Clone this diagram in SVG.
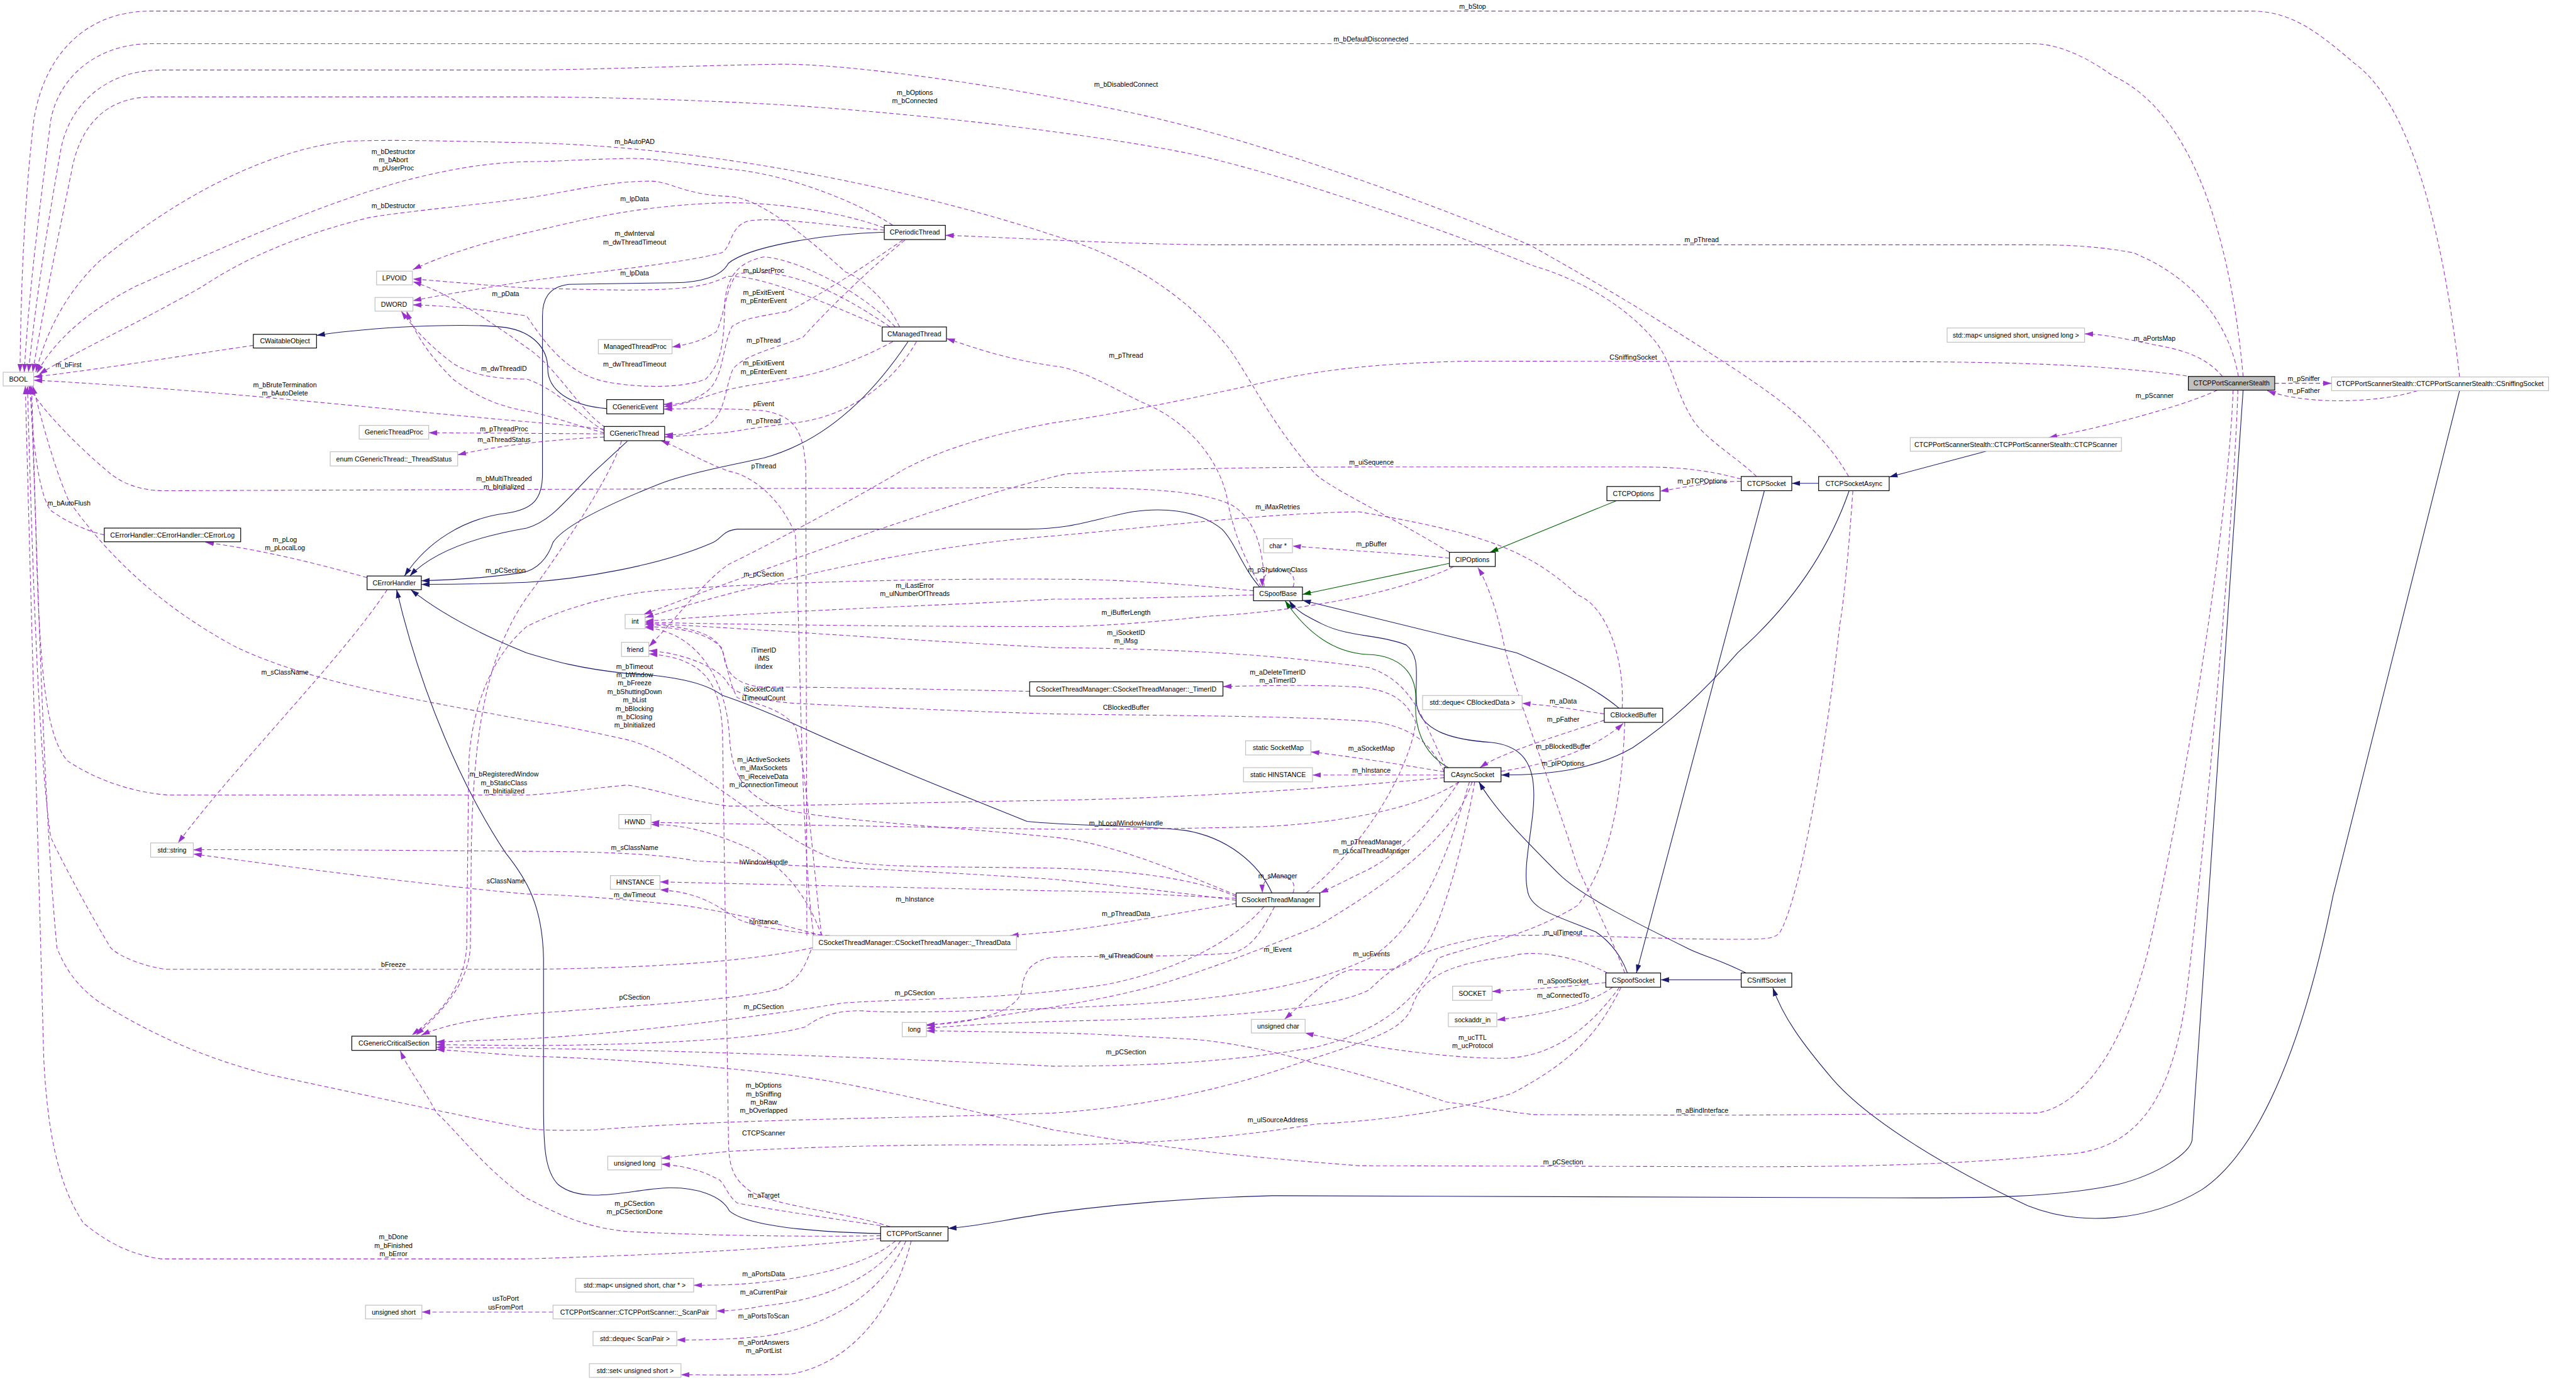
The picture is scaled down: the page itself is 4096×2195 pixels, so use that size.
<svg xmlns="http://www.w3.org/2000/svg" width="4096" height="2195" viewBox="0 0 4096 2195">
<defs>
<style>
text{font-family:"Liberation Sans",Arial,sans-serif;font-size:12.7px;fill:#000;text-anchor:middle}
.n rect{fill:#fff;stroke:#000;stroke-width:1.4}
.g rect{fill:#fff;stroke:#bfbfbf;stroke-width:1.4}
.d{fill:none;stroke:#9a32cd;stroke-width:1.3;stroke-dasharray:8,5;marker-end:url(#ap)}
.b{fill:none;stroke:#191970;stroke-width:1.3;marker-end:url(#ab)}
.gn{fill:none;stroke:#006400;stroke-width:1.3;marker-end:url(#ag)}
</style>
<marker id="ap" viewBox="0 0 16 12" refX="16" refY="6" markerWidth="16" markerHeight="12" orient="auto" markerUnits="userSpaceOnUse"><path d="M0,1 L16,6 L0,11 z" fill="#9a32cd"/></marker>
<marker id="ab" viewBox="0 0 16 12" refX="16" refY="6" markerWidth="16" markerHeight="12" orient="auto" markerUnits="userSpaceOnUse"><path d="M0,1 L16,6 L0,11 z" fill="#191970"/></marker>
<marker id="ag" viewBox="0 0 16 12" refX="16" refY="6" markerWidth="16" markerHeight="12" orient="auto" markerUnits="userSpaceOnUse"><path d="M0,1 L16,6 L0,11 z" fill="#006400"/></marker>
</defs>
<rect width="4096" height="2195" fill="#fff"/>
<g transform="scale(0.83745)">
<g id="edges">
<path class="b" d="M1152,776 C1080,770 1040,740 1040,700 C1040,660 1010,630 960,622 C880,612 700,622 601,637"/>
<path class="b" d="M1679,441 C1550,445 1420,470 1383,500 C1370,525 1330,537 1280,537 L1080,540 C1040,545 1030,570 1030,600 L1030,900 C1030,950 1010,968 960,975 C880,985 810,1030 768,1094"/>
<path class="b" d="M1191,838 L1124,900 C1070,955 1045,990 1000,1003 C900,1020 820,1050 778,1094"/>
<path class="b" d="M1724,649 C1650,760 1560,840 1450,870 C1380,885 1300,900 1250,920 C1150,960 1070,1000 1050,1030 C1040,1060 1020,1083 990,1088 C920,1098 850,1102 800,1103"/>
<path class="b" d="M2392,1115 C2360,1080 2345,1030 2320,1005 C2270,965 2200,965 2150,972 C2080,985 2040,1005 1950,1005 L1400,1005 C1370,1008 1370,1025 1350,1032 C1250,1075 1100,1100 1000,1106 C900,1110 850,1110 800,1110"/>
<path class="b" d="M2415,1696 C2390,1640 2330,1590 2249,1577 C2150,1566 2050,1570 1950,1560 C1800,1500 1650,1440 1510,1376 C1440,1345 1400,1330 1370,1320 C1330,1290 1250,1282 1190,1279 C1100,1270 1050,1255 1000,1240 C900,1200 830,1160 780,1120"/>
<path class="b" d="M1672,2343 C1550,2340 1420,2330 1385,2300 C1370,2270 1320,2255 1270,2256 C1200,2258 1110,2290 1060,2250 C1035,2225 1032,2180 1032,2100 L1032,1820 C1030,1720 1000,1670 960,1620 C880,1500 800,1320 753,1120"/>
<path class="gn" d="M2750,1458 C2700,1430 2685,1380 2688,1330 C2690,1280 2660,1245 2597,1243 C2530,1240 2480,1200 2440,1141"/>
<path class="b" d="M3090,1848 C3080,1820 3060,1790 3030,1770 C2960,1740 2905,1730 2900,1690 C2890,1640 2915,1560 2912,1500 C2910,1440 2880,1415 2830,1410 C2760,1405 2700,1390 2690,1340 C2685,1290 2700,1250 2670,1225 C2620,1205 2560,1210 2510,1185 C2480,1170 2460,1160 2448,1141"/>
<path class="b" d="M3074,1345 C3020,1300 2950,1270 2880,1240 L2473,1140"/>
<path class="gn" d="M2752,1070 L2473,1129"/>
<path class="gn" d="M3069,951 L2829,1049"/>
<path class="b" d="M3350,932 L3107,1848"/>
<path class="b" d="M3453,918 L3402,918"/>
<path class="b" d="M3511,932 C3470,1050 3400,1150 3300,1239 C3230,1320 3160,1380 3100,1420 C3030,1460 2950,1472 2850,1472"/>
<path class="b" d="M3306,1861 L3153,1861"/>
<path class="b" d="M3315,1848 C3260,1820 3230,1815 3202,1800 C3100,1750 3000,1700 2960,1660 C2900,1600 2840,1540 2808,1485"/>
<path class="b" d="M4259,741 L4162,2166 C4157,2190 4100,2230 4020,2250 C3900,2275 3750,2276 3600,2275 L2415,2271 C2250,2275 2100,2290 2000,2303 C1900,2318 1850,2330 1800,2333"/>
<path class="b" d="M4670,742 L4430,1700 C4380,1950 4300,2180 4180,2260 C4080,2320 3950,2330 3850,2290 C3700,2220 3550,2130 3480,2050 C3420,1980 3385,1930 3366,1876"/>
<path class="b" d="M3771,857 L3587,906"/>

<path class="d" d="M4670,716 C4640,450 4580,200 4470,120 C4400,60 4350,21 4274,21 L287,21 C150,21 80,120 64,230 C50,350 40,500 38,707"/>
<path class="d" d="M4259,715 C4240,500 4180,220 4010,143 C3950,100 3900,83 3858,83 L287,83 C180,83 110,150 96,230 C75,400 55,550 46,707"/>
<path class="d" d="M3510,905 C3450,800 3350,740 3300,705 C3200,640 3100,575 2904,465 C2700,380 2400,270 2166,218 C1900,160 1600,120 1478,122 C1300,125 1100,133 1000,133 L306,133 C200,133 130,200 115,287 C95,400 70,550 54,707"/>
<path class="d" d="M3335,905 C3300,870 3230,830 3210,790 C3180,740 3175,690 3144,650 C3080,570 2980,525 2912,505 C2700,420 2400,320 2250,290 C2100,260 1800,220 1500,200 C1300,188 1100,184 1000,184 L290,184 C200,184 150,240 135,330 C110,450 80,600 62,707"/>
<path class="d" d="M2752,1049 C2640,980 2530,930 2497,900 C2410,800 2370,710 2332,660 C2260,570 2150,490 2000,447 C1800,380 1400,280 1000,271 C850,268 750,265 663,268 C500,285 330,380 191,494 C120,560 85,640 68,707"/>
<path class="d" d="M1695,428 C1640,390 1500,330 1383,321 C1300,310 1240,300 1191,301 C1100,303 1050,307 1000,307 C900,310 820,330 765,344 C600,390 400,480 255,545 C150,600 95,660 70,709"/>
<path class="d" d="M1708,621 C1680,560 1620,520 1606,517 C1520,440 1440,375 1383,373 C1300,370 1270,344 1236,344 C1150,344 1080,365 1000,376 C900,390 780,400 702,413 C550,450 450,500 383,545 C250,620 130,675 74,711"/>
<path class="d" d="M481,656 C350,675 200,700 64,716"/>
<path class="d" d="M1147,815 C1100,810 1050,805 1000,801 C700,775 400,740 64,722"/>
<path class="d" d="M2400,1115 C2400,1060 2390,990 2340,960 C2290,935 2200,926 2000,926 L313,932 C260,932 230,915 210,900 C150,850 80,780 54,733"/>
<path class="d" d="M198,1016 C150,1005 110,980 96,969 C75,940 62,850 57,733"/>
<path class="d" d="M2742,1477 C2600,1490 2300,1515 2000,1520 C1700,1525 1500,1531 1383,1531 C1300,1520 1250,1500 1191,1491 C1100,1500 1050,1508 1000,1510 L319,1510 C250,1505 180,1480 128,1445 C90,1400 75,1300 68,1000 L60,733"/>
<path class="d" d="M2347,1703 C2250,1660 2100,1652 2000,1649 C1800,1645 1650,1650 1580,1630 C1450,1580 1320,1440 1191,1405 C1100,1385 1050,1375 1000,1368 C800,1330 600,1300 450,1230 C300,1150 200,1050 130,950 C100,880 80,800 62,733"/>
<path class="d" d="M1543,1800 C1450,1820 1300,1838 1000,1841 L313,1841 C250,1830 220,1810 210,1800 C150,1700 100,1600 96,1589 C70,1400 60,1000 52,733"/>
<path class="d" d="M1672,2352 C1500,2370 1319,2381 1000,2391 L306,2391 C220,2380 170,2330 159,2324 C110,2250 90,2150 83,2009 C75,1700 60,1200 48,733"/>
<path class="d" d="M3052,1848 C2980,1810 2900,1805 2870,1816 C2760,1830 2700,1850 2680,1915 C2660,1960 2600,1975 2464,2020 C2350,2060 2200,2100 2000,2114 C1700,2125 1383,2125 1128,2146 C1050,2148 1020,2146 1000,2143 C850,2115 650,2070 510,2041 C350,2000 250,1940 191,1905 C140,1870 120,1830 108,1800 C80,1500 70,1000 58,733"/>

<path class="d" d="M1679,433 C1620,410 1500,385 1383,385 C1200,390 1100,420 1000,442 C900,465 830,490 784,512"/>
<path class="d" d="M1685,625 C1600,590 1450,520 1380,525 C1340,545 1300,550 1191,551 C1100,550 1050,548 1000,547 C900,540 830,533 784,530"/>
<path class="d" d="M1150,812 C1100,780 1060,700 1000,660 C930,610 850,555 784,535"/>
<path class="d" d="M1679,437 C1600,432 1470,410 1420,420 C1385,430 1390,470 1370,480 C1300,500 1100,520 1000,534 C900,550 830,562 784,571"/>
<path class="d" d="M1700,621 C1620,540 1500,490 1450,488 C1390,500 1380,540 1376,574 C1375,650 1370,690 1340,720 C1290,740 1200,735 1150,725 C1080,710 1040,660 1000,600 C900,585 830,580 784,579"/>
<path class="d" d="M1147,818 C1100,790 1060,740 1000,720 C950,720 900,715 860,690 C820,660 790,630 762,591"/>
<path class="d" d="M1147,822 C1100,810 1050,790 1000,781 C940,770 900,750 860,720 C820,680 790,640 772,591"/>
<path class="d" d="M1147,824 L814,822"/>
<path class="d" d="M1147,830 C1050,835 950,845 869,864"/>
<path class="d" d="M697,1097 C600,1070 500,1045 390,1030"/>
<path class="d" d="M735,1120 C650,1250 450,1450 338,1601"/>
<path class="d" d="M2347,1710 C2200,1690 2100,1680 2000,1670 C1700,1650 1400,1640 1319,1635 C1250,1620 1100,1617 1000,1617 C800,1615 500,1613 367,1614"/>
<path class="d" d="M1560,1777 C1500,1760 1400,1735 1300,1720 C1200,1710 1100,1700 1000,1698 C800,1680 500,1640 367,1622"/>
<path class="d" d="M2770,1485 C2720,1520 2600,1560 2400,1570 C2200,1575 2100,1575 2000,1575 L1236,1562"/>
<path class="d" d="M1560,1777 C1540,1720 1500,1650 1420,1610 C1350,1580 1300,1566 1236,1566"/>
<path class="d" d="M2347,1706 C2200,1700 2100,1692 2000,1692 L1253,1675"/>
<path class="d" d="M1575,1777 C1500,1770 1430,1760 1400,1745 C1360,1720 1330,1695 1253,1690"/>
<path class="d" d="M2347,1716 C2200,1740 2100,1760 2000,1770 C1960,1773 1940,1775 1918,1777"/>
<path class="d" d="M2480,1696 C2600,1600 2680,1450 2688,1371 C2670,1330 2640,1310 2580,1305 C2500,1300 2400,1302 2322,1304"/>
<path class="d" d="M2380,1130 C2200,1135 2100,1138 2000,1138 C1800,1150 1500,1158 1225,1180"/>
<path class="d" d="M2745,1458 C2700,1360 2680,1295 2600,1268 C2400,1240 2200,1232 2000,1230 C1700,1215 1400,1192 1225,1184"/>
<path class="d" d="M2760,1076 C2650,1130 2450,1162 2300,1170 C2200,1180 2100,1190 2000,1190 C1700,1190 1400,1186 1225,1182"/>
<path class="d" d="M3080,1345 C3085,1250 3050,1150 2995,1130 C2900,1040 2800,1010 2580,972 C2400,975 2200,1000 2000,1018 C1700,1040 1400,1120 1225,1173"/>
<path class="d" d="M3306,910 C3250,895 3200,887 3119,887 L2604,887 C2300,887 2100,895 2025,900 C1800,950 1400,1100 1222,1167"/>
<path class="d" d="M1955,1313 C1800,1310 1600,1305 1446,1305 C1400,1300 1380,1280 1375,1250 C1370,1210 1330,1190 1225,1186"/>
<path class="d" d="M1560,1777 C1550,1700 1530,1450 1510,1380 C1480,1340 1420,1335 1400,1325 C1385,1300 1380,1260 1370,1230 C1340,1200 1290,1192 1225,1190"/>
<path class="d" d="M2347,1700 C2200,1640 2100,1600 2000,1590 C1800,1570 1600,1560 1500,1540 C1420,1520 1390,1480 1385,1400 C1380,1300 1330,1200 1225,1192"/>
<path class="d" d="M4152,714 C4050,700 3900,687 3600,687 L2788,686 C2600,690 2500,705 2415,723 C2250,760 2100,790 2000,803 C1850,830 1750,870 1702,900 C1600,960 1450,1040 1383,1072 C1330,1110 1280,1180 1232,1228"/>
<path class="d" d="M2742,1466 C2720,1420 2690,1380 2600,1370 C2450,1360 2300,1360 2000,1356 C1800,1350 1600,1340 1510,1336 C1440,1330 1400,1320 1383,1300 C1370,1270 1300,1240 1232,1236"/>
<path class="d" d="M1690,2330 C1600,2300 1450,2290 1415,2255 C1385,2230 1383,2200 1383,2150 L1372,1400 C1370,1300 1340,1250 1232,1242"/>
<path class="d" d="M1714,456 C1650,500 1574,551 1497,591 C1450,600 1415,603 1390,620 C1370,660 1375,720 1340,745 C1310,765 1290,768 1260,768"/>
<path class="d" d="M1695,649 C1620,690 1550,710 1510,717 C1450,728 1400,735 1383,740 C1330,755 1300,770 1260,772"/>
<path class="d" d="M1532,1777 L1530,900 C1528,820 1510,790 1450,780 C1380,775 1300,776 1260,777"/>
<path class="d" d="M1718,456 C1640,520 1560,600 1525,640 C1480,660 1420,670 1392,700 C1375,740 1378,790 1340,810 C1310,825 1290,827 1262,825"/>
<path class="d" d="M1740,649 C1700,720 1620,790 1510,803 C1450,810 1400,818 1383,821 C1330,826 1290,828 1262,830"/>
<path class="d" d="M1545,1777 C1520,1600 1520,1200 1510,1015 C1480,940 1420,900 1383,895 C1320,870 1290,850 1255,837"/>
<path class="d" d="M1690,621 C1600,560 1500,505 1400,520 C1380,540 1375,600 1360,630 C1330,650 1300,655 1276,659"/>
<path class="d" d="M4250,715 C4230,600 4150,520 4050,480 C3970,465 3900,465 3858,465 L2300,465 C2100,463 1900,450 1795,447"/>
<path class="d" d="M2395,1115 C2360,1060 2340,1000 2332,957 C2320,880 2260,800 2166,763 C2100,730 2050,700 2000,695 C1900,680 1850,660 1797,643"/>
<path class="d" d="M3078,1875 C3040,1950 3000,2009 2870,2077 C2750,2114 2600,2130 2497,2135 C2350,2160 2200,2172 2000,2175 C1700,2172 1500,2180 1383,2187 C1330,2192 1290,2196 1256,2200"/>
<path class="d" d="M1672,2328 C1550,2310 1450,2295 1400,2285 C1380,2270 1375,2245 1364,2240 C1330,2222 1300,2215 1256,2211"/>
<path class="d" d="M1700,2357 C1650,2400 1550,2425 1450,2435 C1400,2441 1350,2441 1317,2441"/>
<path class="d" d="M1710,2357 C1660,2430 1560,2470 1450,2480 C1420,2486 1390,2490 1360,2490"/>
<path class="d" d="M1720,2357 C1680,2450 1580,2520 1450,2538 C1380,2545 1320,2545 1285,2545"/>
<path class="d" d="M1730,2357 C1700,2480 1620,2590 1500,2610 C1400,2613 1330,2611 1293,2611"/>
<path class="d" d="M1050,2492 L801,2492"/>
<path class="d" d="M1672,2347 C1500,2350 1300,2345 1191,2339 C1100,2330 1050,2300 1000,2276 C920,2220 860,2140 829,2114 C800,2060 775,2030 760,1996"/>
<path class="d" d="M2380,1122 C2200,1105 2100,1100 2000,1100 C1700,1098 1400,1110 1255,1121 C1150,1130 1060,1160 1000,1190 C930,1250 895,1350 890,1450 L886,1800 C880,1880 830,1930 782,1966"/>
<path class="d" d="M1180,837 C1170,880 1100,1000 1000,1135 C920,1250 900,1400 895,1600 L893,1800 C888,1870 840,1920 790,1966"/>
<path class="d" d="M1540,1804 C1530,1830 1520,1860 1480,1878 C1400,1900 1200,1910 1000,1926 C900,1935 840,1948 800,1966"/>
<path class="d" d="M2400,1722 C2350,1780 2250,1840 2100,1870 C1900,1900 1750,1895 1600,1905 C1450,1930 1200,1962 1000,1973 L828,1979"/>
<path class="d" d="M2790,1485 C2750,1620 2700,1760 2600,1820 C2450,1890 2250,1905 2000,1915 C1850,1920 1700,1925 1640,1920 C1580,1918 1550,1935 1530,1950 C1450,1975 1200,1985 1000,1986 L828,1984"/>
<path class="d" d="M3085,1372 C3080,1500 3060,1640 2995,1720 C2900,1780 2780,1800 2730,1820 C2690,1900 2620,1960 2497,1989 C2350,2015 2200,2025 2000,2025 C1700,2010 1300,1995 1000,1991 L828,1989"/>
<path class="d" d="M4249,741 C4245,900 4200,1500 4150,1900 C4120,2100 4050,2190 3909,2193 C3700,2214 3500,2216 3300,2216 L2580,2214 C2400,2200 2249,2187 2000,2146 C1800,2100 1600,2050 1446,2036 C1300,2020 1100,2008 1000,2006 L828,1993"/>
<path class="d" d="M4240,741 C4230,1000 4150,1500 4080,1800 C4030,2000 3950,2100 3868,2114 L3300,2118 C3100,2118 2950,2117 2912,2117 C2850,2110 2800,2100 2746,2093 C2650,2060 2550,2030 2497,2020 C2400,1990 2300,1975 2249,1973 C2150,1968 2050,1962 2000,1962 C1900,1960 1800,1958 1759,1958"/>
<path class="d" d="M3518,932 C3510,1050 3500,1150 3493,1187 C3470,1400 3420,1700 3380,1770 C3370,1782 3361,1784 3300,1784 C3100,1784 3000,1772 2829,1778 C2700,1800 2650,1830 2600,1880 C2500,1930 2200,1935 2000,1940 C1850,1945 1800,1950 1759,1953"/>
<path class="d" d="M2795,1485 C2760,1600 2600,1700 2500,1760 C2400,1800 2300,1840 2200,1870 C2100,1900 1900,1930 1759,1948"/>
<path class="d" d="M2420,1722 C2400,1760 2380,1800 2340,1810 C2250,1818 2100,1815 2000,1818 C1960,1824 1944,1842 1940,1880 C1935,1920 1850,1945 1759,1946"/>
<path class="d" d="M2800,1485 C2780,1600 2740,1750 2705,1800 C2680,1830 2650,1842 2630,1842 L2564,1842 C2530,1850 2500,1880 2439,1936"/>
<path class="d" d="M3075,1875 C3020,1950 2950,2010 2850,2010 C2750,2010 2600,1990 2478,1962"/>
<path class="d" d="M3049,1866 C3000,1872 2900,1880 2833,1883"/>
<path class="d" d="M3062,1875 C3020,1905 2950,1925 2842,1937"/>
<path class="d" d="M3085,1848 C3060,1780 3000,1660 2995,1646 C2950,1500 2870,1300 2854,1216 C2840,1150 2820,1100 2806,1078"/>
<path class="d" d="M2850,1465 C2950,1450 3030,1420 3082,1374"/>
<path class="d" d="M3046,1368 C2950,1400 2850,1430 2810,1458"/>
<path class="d" d="M3046,1356 C2990,1348 2950,1340 2890,1336"/>
<path class="d" d="M2742,1466 C2650,1450 2550,1435 2489,1428"/>
<path class="d" d="M2742,1472 L2492,1472"/>
<path class="d" d="M2752,1060 C2650,1050 2550,1045 2454,1037"/>
<path class="d" d="M3306,914 C3250,915 3200,925 3152,933"/>
<path class="d" d="M2770,1485 C2720,1560 2650,1630 2580,1660 C2540,1680 2520,1690 2506,1696"/>
<path class="d" d="M2455,1696 C2462,1676 2450,1664 2428,1664 C2405,1664 2396,1676 2397,1696"/>
<path class="d" d="M2455,1115 C2462,1095 2450,1083 2430,1083 C2405,1083 2396,1095 2397,1115"/>
<path class="d" d="M4220,715 C4190,680 4150,665 4091,655 C4020,640 3990,635 3958,634"/>
<path class="d" d="M4319,728 L4427,728"/>
<path class="d" d="M4590,742 C4520,765 4380,770 4305,742"/>
<path class="d" d="M4210,741 C4150,770 4000,810 3890,831"/>
</g>

<g id="labels">
<text x="2796" y="17">m_bStop</text>
<text x="2603" y="79">m_bDefaultDisconnected</text>
<text x="2138" y="165">m_bDisabledConnect</text>
<text x="1737" y="180">m_bOptions<tspan x="1737" dy="16">m_bConnected</tspan></text>
<text x="1205" y="274">m_bAutoPAD</text>
<text x="747" y="292">m_bDestructor<tspan x="747" dy="16">m_bAbort</tspan><tspan x="747" dy="16">m_pUserProc</tspan></text>
<text x="747" y="395">m_bDestructor</text>
<text x="1205" y="382">m_lpData</text>
<text x="1205" y="448">m_dwInterval<tspan x="1205" dy="16">m_dwThreadTimeout</tspan></text>
<text x="1205" y="523">m_lpData</text>
<text x="1450" y="518">m_pUserProc</text>
<text x="1450" y="560">m_pExitEvent<tspan x="1450" dy="16">m_pEnterEvent</tspan></text>
<text x="960" y="562">m_pData</text>
<text x="1450" y="651">m_pThread</text>
<text x="2138" y="680">m_pThread</text>
<text x="3101" y="683">CSniffingSocket</text>
<text x="3231" y="460">m_pThread</text>
<text x="1205" y="696">m_dwThreadTimeout</text>
<text x="130" y="697">m_bFirst</text>
<text x="957" y="704">m_dwThreadID</text>
<text x="1450" y="694">m_pExitEvent<tspan x="1450" dy="16">m_pEnterEvent</tspan></text>
<text x="541" y="735">m_bBruteTermination<tspan x="541" dy="16">m_bAutoDelete</tspan></text>
<text x="1450" y="771">pEvent</text>
<text x="1450" y="804">m_pThread</text>
<text x="957" y="819">m_pThreadProc</text>
<text x="957" y="840">m_aThreadStatus</text>
<text x="1450" y="890">pThread</text>
<text x="2604" y="883">m_uiSequence</text>
<text x="957" y="913">m_bMultiThreaded<tspan x="957" dy="16">m_bInitialized</tspan></text>
<text x="3232" y="918">m_pTCPOptions</text>
<text x="131" y="960">m_bAutoFlush</text>
<text x="2426" y="967">m_iMaxRetries</text>
<text x="541" y="1029">m_pLog<tspan x="541" dy="16">m_pLocalLog</tspan></text>
<text x="2604" y="1038">m_pBuffer</text>
<text x="2426" y="1087">m_pShutdownClass</text>
<text x="960" y="1088">m_pCSection</text>
<text x="1450" y="1095">m_pCSection</text>
<text x="1737" y="1116">m_iLastError<tspan x="1737" dy="16">m_ulNumberOfThreads</tspan></text>
<text x="2138" y="1168">m_iBufferLength</text>
<text x="2138" y="1206">m_iSocketID<tspan x="2138" dy="16">m_iMsg</tspan></text>
<text x="1450" y="1239">iTimerID<tspan x="1450" dy="16">iMS</tspan><tspan x="1450" dy="16">iIndex</tspan></text>
<text x="1205" y="1270">m_bTimeout<tspan x="1205" dy="16">m_bWindow</tspan><tspan x="1205" dy="16">m_bFreeze</tspan><tspan x="1205" dy="16">m_bShuttingDown</tspan><tspan x="1205" dy="16">m_bList</tspan><tspan x="1205" dy="16">m_bBlocking</tspan><tspan x="1205" dy="16">m_bClosing</tspan><tspan x="1205" dy="16">m_bInitialized</tspan></text>
<text x="541" y="1281">m_sClassName</text>
<text x="2426" y="1281">m_aDeleteTimerID<tspan x="2426" dy="16">m_aTimerID</tspan></text>
<text x="1450" y="1314">iSocketCount<tspan x="1450" dy="16">iTimeoutCount</tspan></text>
<text x="2968" y="1336">m_aData</text>
<text x="2138" y="1348">CBlockedBuffer</text>
<text x="2968" y="1371">m_pFather</text>
<text x="2968" y="1422">m_pBlockedBuffer</text>
<text x="2604" y="1426">m_aSocketMap</text>
<text x="1450" y="1447">m_iActiveSockets<tspan x="1450" dy="16">m_iMaxSockets</tspan><tspan x="1450" dy="16">m_iReceiveData</tspan><tspan x="1450" dy="16">m_iConnectionTimeout</tspan></text>
<text x="2968" y="1455">m_pIPOptions</text>
<text x="2604" y="1468">m_hInstance</text>
<text x="957" y="1475">m_bRegisteredWindow<tspan x="957" dy="16">m_bStaticClass</tspan><tspan x="957" dy="16">m_bInitialized</tspan></text>
<text x="2138" y="1568">m_hLocalWindowHandle</text>
<text x="2604" y="1604">m_pThreadManager<tspan x="2604" dy="16">m_pLocalThreadManager</tspan></text>
<text x="1205" y="1614">m_sClassName</text>
<text x="1450" y="1642">hWindowHandle</text>
<text x="2426" y="1668">m_sManager</text>
<text x="960" y="1678">sClassName</text>
<text x="1205" y="1704">m_dwTimeout</text>
<text x="1737" y="1712">m_hInstance</text>
<text x="2138" y="1740">m_pThreadData</text>
<text x="1450" y="1755">hInstance</text>
<text x="2968" y="1776">m_ulTimeout</text>
<text x="2426" y="1808">m_lEvent</text>
<text x="2138" y="1820">m_ulThreadCount</text>
<text x="2604" y="1816">m_ucEvents</text>
<text x="747" y="1836">bFreeze</text>
<text x="2968" y="1867">m_aSpoofSocket</text>
<text x="1737" y="1890">m_pCSection</text>
<text x="2968" y="1895">m_aConnectedTo</text>
<text x="1205" y="1899">pCSection</text>
<text x="1450" y="1917">m_pCSection</text>
<text x="2796" y="1975">m_ucTTL<tspan x="2796" dy="16">m_ucProtocol</tspan></text>
<text x="2138" y="2003">m_pCSection</text>
<text x="1450" y="2066">m_bOptions<tspan x="1450" dy="16">m_bSniffing</tspan><tspan x="1450" dy="16">m_bRaw</tspan><tspan x="1450" dy="16">m_bOverlapped</tspan></text>
<text x="3232" y="2114">m_aBindInterface</text>
<text x="2426" y="2132">m_ulSourceAddress</text>
<text x="1450" y="2156">CTCPScanner</text>
<text x="2968" y="2211">m_pCSection</text>
<text x="1450" y="2275">m_aTarget</text>
<text x="1205" y="2290">m_pCSection<tspan x="1205" dy="16">m_pCSectionDone</tspan></text>
<text x="747" y="2354">m_bDone<tspan x="747" dy="16">m_bFinished</tspan><tspan x="747" dy="16">m_bError</tspan></text>
<text x="1450" y="2424">m_aPortsData</text>
<text x="1450" y="2459">m_aCurrentPair</text>
<text x="960" y="2471">usToPort<tspan x="960" dy="16">usFromPort</tspan></text>
<text x="1450" y="2504">m_aPortsToScan</text>
<text x="1450" y="2554">m_aPortAnswers<tspan x="1450" dy="16">m_aPortList</tspan></text>
<text x="4091" y="647">m_aPortsMap</text>
<text x="4374" y="724">m_pSniffer</text>
<text x="4374" y="746">m_pFather</text>
<text x="4091" y="756">m_pScanner</text>
</g>

<g id="n_bool" class="g"><rect x="6" y="707" width="58" height="26"/><text x="35" y="724.5">BOOL</text></g>
<g id="n_lpvoid" class="g"><rect x="715" y="515" width="68" height="26"/><text x="749" y="532.5">LPVOID</text></g>
<g id="n_dword" class="g"><rect x="712" y="565" width="72" height="26"/><text x="748" y="582.5">DWORD</text></g>
<g id="n_cwaitable" class="n"><rect x="481" y="635" width="120" height="26"/><text x="541" y="652.5">CWaitableObject</text></g>
<g id="n_gtproc" class="g"><rect x="682" y="808" width="132" height="26"/><text x="748" y="825.5">GenericThreadProc</text></g>
<g id="n_tstatus" class="g"><rect x="627" y="858" width="242" height="27"/><text x="748" y="876">enum CGenericThread::_ThreadStatus</text></g>
<g id="n_errlog" class="n"><rect x="198" y="1003" width="259" height="26"/><text x="327.5" y="1020.5">CErrorHandler::CErrorHandler::CErrorLog</text></g>
<g id="n_errh" class="n"><rect x="697" y="1094" width="103" height="26"/><text x="748.5" y="1111.5">CErrorHandler</text></g>
<g id="n_string" class="g"><rect x="286" y="1601" width="81" height="27"/><text x="326.5" y="1619">std::string</text></g>
<g id="n_gcs" class="n"><rect x="668" y="1968" width="160" height="27"/><text x="748" y="1986">CGenericCriticalSection</text></g>
<g id="n_ushort" class="g"><rect x="694" y="2479" width="107" height="26"/><text x="747.5" y="2496.5">unsigned short</text></g>
<g id="n_periodic" class="n"><rect x="1679" y="428" width="116" height="27"/><text x="1737" y="446">CPeriodicThread</text></g>
<g id="n_mtproc" class="g"><rect x="1136" y="645" width="140" height="27"/><text x="1206" y="663">ManagedThreadProc</text></g>
<g id="n_managed" class="n"><rect x="1675" y="621" width="122" height="27"/><text x="1736" y="639">CManagedThread</text></g>
<g id="n_gevent" class="n"><rect x="1152" y="759" width="108" height="27"/><text x="1206" y="777">CGenericEvent</text></g>
<g id="n_gthread" class="n"><rect x="1147" y="810" width="115" height="27"/><text x="1204.5" y="828">CGenericThread</text></g>
<g id="n_int" class="g"><rect x="1187" y="1167" width="38" height="27"/><text x="1206" y="1185">int</text></g>
<g id="n_friend" class="g"><rect x="1180" y="1220" width="52" height="27"/><text x="1206" y="1238">friend</text></g>
<g id="n_hwnd" class="g"><rect x="1175" y="1547" width="61" height="27"/><text x="1205.5" y="1565">HWND</text></g>
<g id="n_hinst" class="g"><rect x="1159" y="1663" width="94" height="26"/><text x="1206" y="1680.5">HINSTANCE</text></g>
<g id="n_tdata" class="g"><rect x="1543" y="1777" width="387" height="27"/><text x="1736.5" y="1795">CSocketThreadManager::CSocketThreadManager::_ThreadData</text></g>
<g id="n_timerid" class="n"><rect x="1955" y="1295" width="367" height="27"/><text x="2138.5" y="1313">CSocketThreadManager::CSocketThreadManager::_TimerID</text></g>
<g id="n_long" class="g"><rect x="1713" y="1942" width="46" height="27"/><text x="1736" y="1960">long</text></g>
<g id="n_ulong" class="g"><rect x="1154" y="2196" width="102" height="26"/><text x="1205" y="2213.5">unsigned long</text></g>
<g id="n_tcpps" class="n"><rect x="1672" y="2330" width="128" height="27"/><text x="1736" y="2348">CTCPPortScanner</text></g>
<g id="n_mapchar" class="g"><rect x="1093" y="2428" width="224" height="26"/><text x="1205" y="2445.5">std::map&lt; unsigned short, char * &gt;</text></g>
<g id="n_scanpair" class="g"><rect x="1050" y="2479" width="310" height="26"/><text x="1205" y="2496.5">CTCPPortScanner::CTCPPortScanner::_ScanPair</text></g>
<g id="n_dequesp" class="g"><rect x="1126" y="2529" width="159" height="27"/><text x="1205.5" y="2547">std::deque&lt; ScanPair &gt;</text></g>
<g id="n_setus" class="g"><rect x="1119" y="2590" width="174" height="26"/><text x="1206" y="2607.5">std::set&lt; unsigned short &gt;</text></g>
<g id="n_charp" class="g"><rect x="2399" y="1023" width="55" height="27"/><text x="2426.5" y="1041">char *</text></g>
<g id="n_ipopt" class="n"><rect x="2752" y="1049" width="87" height="27"/><text x="2795.5" y="1067">CIPOptions</text></g>
<g id="n_spoofbase" class="n"><rect x="2380" y="1115" width="93" height="26"/><text x="2426.5" y="1132.5">CSpoofBase</text></g>
<g id="n_tcpopt" class="n"><rect x="3051" y="924" width="101" height="27"/><text x="3101.5" y="942">CTCPOptions</text></g>
<g id="n_dequebd" class="g"><rect x="2701" y="1321" width="189" height="27"/><text x="2795.5" y="1339">std::deque&lt; CBlockedData &gt;</text></g>
<g id="n_blocked" class="n"><rect x="3046" y="1345" width="111" height="27"/><text x="3101.5" y="1363">CBlockedBuffer</text></g>
<g id="n_sockmap" class="g"><rect x="2365" y="1407" width="124" height="27"/><text x="2427" y="1425">static SocketMap</text></g>
<g id="n_shinst" class="g"><rect x="2361" y="1458" width="131" height="27"/><text x="2426.5" y="1476">static HINSTANCE</text></g>
<g id="n_async" class="n"><rect x="2742" y="1458" width="108" height="27"/><text x="2796" y="1476">CAsyncSocket</text></g>
<g id="n_stm" class="n"><rect x="2347" y="1696" width="159" height="26"/><text x="2426.5" y="1713.5">CSocketThreadManager</text></g>
<g id="n_spoofsock" class="n"><rect x="3049" y="1848" width="104" height="27"/><text x="3101" y="1866">CSpoofSocket</text></g>
<g id="n_socket" class="g"><rect x="2758" y="1873" width="75" height="27"/><text x="2795.5" y="1891">SOCKET</text></g>
<g id="n_sockaddr" class="g"><rect x="2750" y="1924" width="92" height="26"/><text x="2796" y="1941.5">sockaddr_in</text></g>
<g id="n_uchar" class="g"><rect x="2376" y="1936" width="102" height="26"/><text x="2427" y="1953.5">unsigned char</text></g>
<g id="n_tcpsock" class="n"><rect x="3306" y="905" width="96" height="27"/><text x="3354" y="923">CTCPSocket</text></g>
<g id="n_tcpasync" class="n"><rect x="3453" y="905" width="134" height="27"/><text x="3520" y="923">CTCPSocketAsync</text></g>
<g id="n_sniff" class="n"><rect x="3306" y="1848" width="96" height="27"/><text x="3354" y="1866">CSniffSocket</text></g>
<g id="n_mapul" class="g"><rect x="3697" y="623" width="261" height="27"/><text x="3827.5" y="641">std::map&lt; unsigned short, unsigned long &gt;</text></g>
<g id="n_stealth"><rect x="4155" y="715" width="164" height="26" fill="#bfbfbf" stroke="#000" stroke-width="1.4"/><text x="4237" y="732.5">CTCPPortScannerStealth</text></g>
<g id="n_sniffing" class="g"><rect x="4427" y="716" width="412" height="26"/><text x="4633" y="733.5">CTCPPortScannerStealth::CTCPPortScannerStealth::CSniffingSocket</text></g>
<g id="n_tcpscanner" class="g"><rect x="3627" y="831" width="401" height="26"/><text x="3827.5" y="848.5">CTCPPortScannerStealth::CTCPPortScannerStealth::CTCPScanner</text></g>
</g>
</svg>
